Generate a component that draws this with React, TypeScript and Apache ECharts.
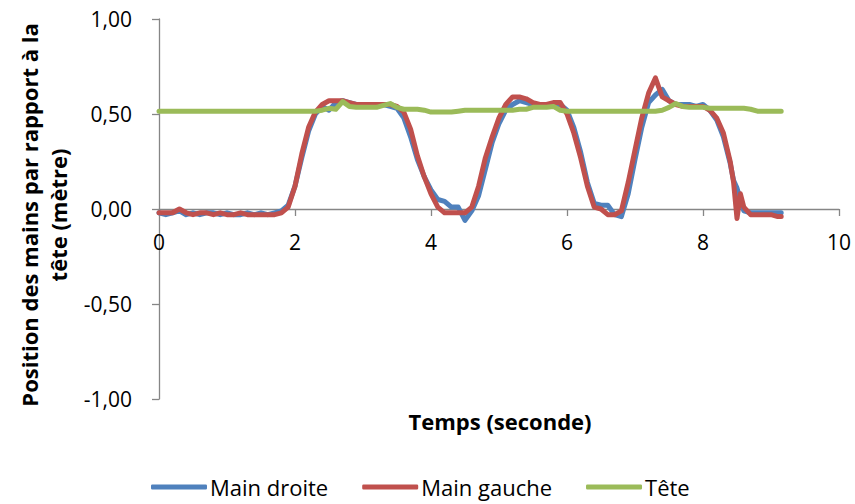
import React, { useEffect, useRef } from "react";
import * as echarts from "echarts";

const times = [
  0.0, 0.1, 0.2, 0.3, 0.4, 0.5, 0.6, 0.7, 0.8, 0.9,
  1.0, 1.1, 1.2, 1.3, 1.4, 1.5, 1.6, 1.7, 1.8, 1.9,
  2.0, 2.1, 2.2, 2.3, 2.4, 2.5, 2.6, 2.7, 2.8, 2.9,
  3.0, 3.1, 3.2, 3.3, 3.4, 3.5, 3.6, 3.7, 3.8, 3.9,
  4.0, 4.1, 4.2, 4.3, 4.4, 4.5, 4.6, 4.7, 4.8, 4.9,
  5.0, 5.1, 5.2, 5.3, 5.4, 5.5, 5.6, 5.7, 5.8, 5.9,
  6.0, 6.1, 6.2, 6.3, 6.4, 6.5, 6.6, 6.7, 6.8, 6.9,
  7.0, 7.1, 7.2, 7.3, 7.4, 7.5, 7.6, 7.7, 7.8, 7.9,
  8.0, 8.1, 8.2, 8.3, 8.4, 8.45, 8.5, 8.55, 8.6, 8.7,
  8.8, 8.9, 9.0, 9.1, 9.15,
];

const mainDroite = [
  -0.02, -0.03, -0.02, -0.01, -0.03, -0.02, -0.03, -0.02, -0.02, -0.03,
  -0.02, -0.03, -0.03, -0.02, -0.03, -0.02, -0.03, -0.02, -0.01, 0.02,
  0.12, 0.27, 0.41, 0.5, 0.54, 0.52, 0.56, 0.57, 0.56, 0.55,
  0.55, 0.55, 0.55, 0.55, 0.54, 0.53, 0.48, 0.38, 0.26, 0.17,
  0.1, 0.05, 0.04, 0.01, 0.01, -0.06, -0.01, 0.07, 0.21, 0.35,
  0.45, 0.52, 0.55, 0.57, 0.56, 0.55, 0.55, 0.55, 0.55, 0.55,
  0.52, 0.43, 0.3, 0.14, 0.03, 0.02, 0.02, -0.03, -0.04, 0.08,
  0.26, 0.43, 0.56, 0.6, 0.63, 0.57, 0.55, 0.55, 0.55, 0.54,
  0.55, 0.52, 0.47, 0.38, 0.24, 0.15, 0.11, 0.05, -0.01, -0.02,
  -0.02, -0.02, -0.02, -0.02, -0.02,
];

const mainGauche = [
  -0.02, -0.02, -0.02, 0.0, -0.02, -0.03, -0.02, -0.02, -0.03, -0.02,
  -0.03, -0.03, -0.02, -0.03, -0.03, -0.03, -0.03, -0.03, -0.02, 0.01,
  0.12, 0.29, 0.43, 0.51, 0.55, 0.57, 0.57, 0.57, 0.56, 0.55,
  0.55, 0.55, 0.55, 0.55, 0.55, 0.54, 0.51, 0.42, 0.28, 0.17,
  0.08, 0.01, -0.02, -0.02, -0.02, -0.02, 0.01, 0.12, 0.27, 0.38,
  0.48, 0.55, 0.59, 0.59, 0.58, 0.56, 0.55, 0.55, 0.56, 0.56,
  0.5, 0.4, 0.27, 0.12, 0.01, 0.0, -0.03, -0.03, -0.01, 0.14,
  0.31, 0.48, 0.61, 0.69, 0.59, 0.57, 0.55, 0.54, 0.54, 0.54,
  0.54, 0.52, 0.48, 0.4, 0.25, 0.14, -0.05, 0.08, 0.01, -0.03,
  -0.03, -0.03, -0.03, -0.04, -0.04,
];

const tete = [
  0.515, 0.515, 0.515, 0.515, 0.515, 0.515, 0.515, 0.515, 0.515, 0.515,
  0.515, 0.515, 0.515, 0.515, 0.515, 0.515, 0.515, 0.515, 0.515, 0.515,
  0.515, 0.515, 0.515, 0.515, 0.52, 0.53, 0.525, 0.565, 0.54, 0.535,
  0.535, 0.535, 0.535, 0.545, 0.555, 0.535, 0.525, 0.525, 0.525, 0.52,
  0.51, 0.51, 0.51, 0.51, 0.515, 0.52, 0.52, 0.52, 0.52, 0.52,
  0.52, 0.52, 0.52, 0.525, 0.525, 0.535, 0.535, 0.535, 0.54, 0.52,
  0.515, 0.515, 0.515, 0.515, 0.515, 0.515, 0.515, 0.515, 0.515, 0.515,
  0.515, 0.515, 0.515, 0.515, 0.52, 0.535, 0.555, 0.54, 0.535, 0.535,
  0.535, 0.53, 0.53, 0.53, 0.53, 0.53, 0.53, 0.53, 0.53, 0.525,
  0.515, 0.515, 0.515, 0.515, 0.515,
];

const seriesNames = ["Main droite", "Main gauche", "Tête"];
const seriesColors = ["#4F81BD", "#C0504D", "#9BBB59"];
const xTitle = "Temps (seconde)";
const yTitle = "Position des mains par rapport à la\ntête (mètre)";

const FONT = "'Open Sans', sans-serif";

export default function App() {
  const ref = useRef<HTMLDivElement>(null);
  useEffect(() => {
    if (!ref.current) return;
    const chart = echarts.init(ref.current, null, { renderer: "svg" });
    const values = [mainDroite, mainGauche, tete];
    const gridTop = 19;
    const gridBottom = 105;
    const plotH = 504 - gridTop - gridBottom;
    chart.setOption({
      animation: false,
      backgroundColor: "#ffffff",
      textStyle: { fontFamily: FONT },
      grid: { left: 159, right: 16, top: gridTop, bottom: gridBottom, containLabel: false },
      legend: {
        top: 475,
        left: 151,
        padding: 0,
        icon: "roundRect",
        itemWidth: 56,
        itemHeight: 5,
        itemGap: 34,
        textStyle: { fontFamily: FONT, fontSize: 22, lineHeight: 24, color: "#000", padding: [0, 0, 0, -2] },
        data: seriesNames,
      },
      xAxis: {
        type: "value",
        min: 0,
        max: 10,
        interval: 2,
        position: "bottom",
        offset: -plotH / 2,
        axisLine: { onZero: false, lineStyle: { color: "#868686", width: 1.3 } },
        axisTick: { show: true, inside: false, length: 7, lineStyle: { color: "#868686", width: 1.3 } },
        axisLabel: { color: "#000", fontSize: 21, fontFamily: FONT, margin: 22 },
        splitLine: { show: false },
      },
      yAxis: {
        type: "value",
        min: -1,
        max: 1,
        interval: 0.5,
        name: yTitle,
        nameLocation: "middle",
        nameGap: 86,
        nameRotate: 90,
        nameTextStyle: {
          fontSize: 22,
          fontWeight: "bold",
          color: "#000",
          fontFamily: FONT,
          lineHeight: 29,
          padding: [0, 12, 0, 0],
        },
        axisLine: { show: true, onZero: false, lineStyle: { color: "#868686", width: 1.3 } },
        axisTick: { show: true, length: 7, lineStyle: { color: "#868686", width: 1.3 } },
        axisLabel: {
          color: "#000",
          fontSize: 21,
          fontFamily: FONT,
          margin: 27,
          formatter: (v: number) => v.toFixed(2).replace(".", ","),
        },
        splitLine: { show: false },
      },
      graphic: [
        {
          type: "text",
          x: 500,
          y: 421,
          style: {
            text: xTitle,
            font: `bold 22px ${FONT}`,
            fill: "#000",
            textAlign: "center",
            textVerticalAlign: "middle",
          },
        },
      ],
      series: seriesNames.map((name, i) => ({
        name,
        type: "line",
        showSymbol: false,
        symbol: "none",
        data: times.map((t, k) => [t, values[i][k]]),
        lineStyle: { color: seriesColors[i], width: 5, cap: "round", join: "round" },
        itemStyle: { color: seriesColors[i] },
      })),
    });
    return () => chart.dispose();
  }, []);
  return (
    <div
      ref={ref}
      style={{ position: "fixed", left: 0, top: 0, width: 855, height: 504, background: "#fff" }}
    />
  );
}
